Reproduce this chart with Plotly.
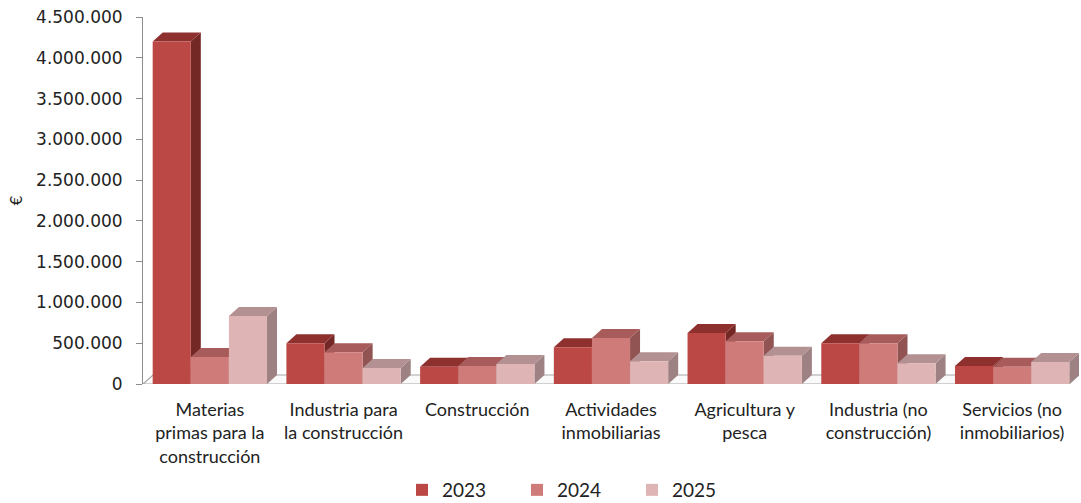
import plotly.graph_objects as go

# ---- data -------------------------------------------------------------
categories = [
    "Materias<br>primas para la<br>construcción",
    "Industria para<br>la construcción",
    "Construcción",
    "Actividades<br>inmobiliarias",
    "Agricultura y<br>pesca",
    "Industria (no<br>construcción)",
    "Servicios (no<br>inmobiliarios)",
]
years = ["2023", "2024", "2025"]
values_2023 = [4200000, 500000, 210000, 450000, 625000, 500000, 220000]
values_2024 = [330000, 390000, 220000, 565000, 525000, 500000, 210000]
values_2025 = [833000, 195000, 245000, 280000, 345000, 255000, 270000]
y_tick_values = [0, 500000, 1000000, 1500000, 2000000, 2500000,
                 3000000, 3500000, 4000000, 4500000]
y_tick_labels = ["0", "500.000", "1.000.000", "1.500.000", "2.000.000",
                 "2.500.000", "3.000.000", "3.500.000", "4.000.000",
                 "4.500.000"]

# ---- styling ----------------------------------------------------------
front_colors = ["#BC4845", "#CF7B7A", "#DFB4B5"]
top_colors = ["#8E302E", "#A75C5B", "#B39192"]
side_colors = ["#742826", "#915453", "#9E8283"]

W, H = 1081, 503
ML, MR, MT, MB = 143, 2, 17, 119
PLOT_W = W - ML - MR
PLOT_H = H - MT - MB
Y_MAX = 4500000
N_CAT = len(categories)
CAT_PX = PLOT_W / N_CAT

BAR_W = 0.285                      # bar width in category units
BAR_PX = BAR_W * CAT_PX            # same width in pixels
DEPTH_X = 10                       # pseudo-3D depth, pixels to the right
DEPTH_Y = 9 * Y_MAX / PLOT_H       # pseudo-3D depth, upwards (data units)

series = [values_2023, values_2024, values_2025]
x_idx = list(range(N_CAT))

fig = go.Figure()

# Front faces of the columns
for j, (name, vals) in enumerate(zip(years, series)):
    fig.add_trace(go.Bar(
        x=x_idx, y=vals, name=name,
        width=BAR_W, offset=-1.5 * BAR_W + j * BAR_W,
        marker=dict(color=front_colors[j], line=dict(width=0)),
        hoverinfo="skip",
    ))

shapes = []
# Floor of the 3D box
shapes.append(dict(
    type="path", layer="below",
    xref="x", yref="y", xsizemode="pixel", xanchor=-0.5,
    path=(f"M0,0 L{DEPTH_X},{DEPTH_Y} L{PLOT_W},{DEPTH_Y} "
          f"L{PLOT_W - DEPTH_X},0 Z"),
    fillcolor="#FAFAFA", line=dict(color="#A6A6A6", width=1.2),
))

# Top and side faces, drawn back-to-front so nearer columns cover them
for i in x_idx:
    for j, vals in enumerate(series):
        v = vals[i]
        xl = i - 1.5 * BAR_W + j * BAR_W
        xr = xl + BAR_W
        shapes.append(dict(
            type="path", layer="below",
            xref="x", yref="y", xsizemode="pixel", xanchor=xr,
            path=(f"M0,{v} L{DEPTH_X},{v + DEPTH_Y} "
                  f"L{DEPTH_X},{DEPTH_Y} L0,0 Z"),
            fillcolor=side_colors[j], line=dict(width=0),
        ))
        shapes.append(dict(
            type="path", layer="below",
            xref="x", yref="y", xsizemode="pixel", xanchor=xl,
            path=(f"M0,{v} L{DEPTH_X},{v + DEPTH_Y} "
                  f"L{DEPTH_X + BAR_PX},{v + DEPTH_Y} L{BAR_PX},{v} Z"),
            fillcolor=top_colors[j], line=dict(width=0),
        ))

fig.update_layout(
    width=W, height=H,
    margin=dict(l=ML, r=MR, t=MT, b=MB, pad=0, autoexpand=False),
    paper_bgcolor="white", plot_bgcolor="white",
    barmode="overlay",
    shapes=shapes,
    showlegend=True,
    legend=dict(
        orientation="h",
        x=(402 - ML) / PLOT_W, xanchor="left",
        y=-(490 - (H - MB)) / PLOT_H, yanchor="middle",
        font=dict(family="Lato", size=19, color="#222222"),
        entrywidth=70, entrywidthmode="pixels",
        itemclick=False, itemdoubleclick=False,
    ),
    font=dict(family="Lato", color="#222222"),
)

fig.update_xaxes(
    range=[-0.5, N_CAT - 0.5],
    tickmode="array", tickvals=x_idx, ticktext=categories,
    showline=False, showgrid=False, zeroline=False, ticks="",
    tickfont=dict(family="Lato", size=18, color="#222222"),
    ticklabelstandoff=13,
    fixedrange=True,
)
fig.update_yaxes(
    range=[0, Y_MAX],
    tickmode="array", tickvals=y_tick_values, ticktext=y_tick_labels,
    showline=True, linecolor="#8C8C8C", linewidth=1,
    ticks="outside", ticklen=6, tickcolor="#8C8C8C",
    showgrid=False, zeroline=False,
    tickfont=dict(family="DejaVu Sans", size=17, color="#222222"),
    ticklabelstandoff=10,
    title=dict(text="€", font=dict(family="DejaVu Sans", size=16,
                                   color="#222222"), standoff=9),
    fixedrange=True,
)

fig.write_html("out.html", config={"displayModeBar": False})
